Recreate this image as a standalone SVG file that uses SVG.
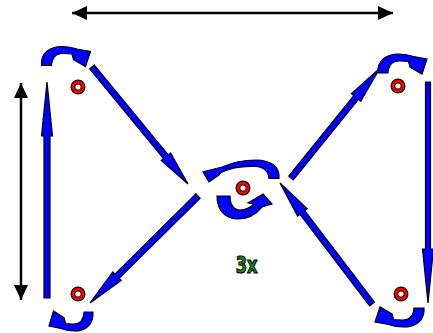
<svg xmlns="http://www.w3.org/2000/svg" xmlns:xlink="http://www.w3.org/1999/xlink" width="433" height="333" viewBox="0 0 433 333">
<style>
.blue{fill:#0000ff;stroke:#000;stroke-width:1.2;stroke-linejoin:miter}
.dim{stroke:#000;stroke-width:2.5;fill:none}
.lbl{font-family:'DejaVu Sans Condensed','DejaVu Sans',sans-serif;font-weight:bold;font-size:18px;fill:#129012;stroke:#000;stroke-width:0.9;text-anchor:middle}
</style>
<defs>
<marker id="ah" markerUnits="userSpaceOnUse" markerWidth="16" markerHeight="14" refX="15" refY="7" orient="auto-start-reverse" viewBox="0 0 16 14">
<path d="M0,0 L15,7 L0,14 Z" fill="#000"/>
</marker>
<path id="curl" d="M0,0 C-1,-12.5 8.5,-19 20.5,-19 C26.5,-19 31.5,-18 35.5,-16.5 L49,-14 L44,1 L32,-6 L30.5,-11.5 C27.5,-12 24.5,-12 21.5,-12 C14.5,-12 10.5,-7.5 10,0 Z"/>
<g id="pin">
<circle r="7.5" fill="#000"/>
<circle r="6.3" fill="#ff0000"/>
<circle r="3.6" fill="#000"/>
<circle r="2.6" fill="#fff"/>
</g>
</defs>
<rect width="433" height="333" fill="#fff"/>
<g id="connectors">
<line class="dim" x1="72" y1="13" x2="393" y2="13" marker-start="url(#ah)" marker-end="url(#ah)"/>
<line class="dim" x1="21" y1="83" x2="21" y2="300" marker-start="url(#ah)" marker-end="url(#ah)"/>
<polygon class="blue" points="50,298 50,136 52.5,136 47,82 41.5,136 44,136 44,298"/>
<polygon class="blue" points="89.67,68.89 163.57,158.69 161.24,160.59 188,184 170.56,153.01 168.23,154.91 94.33,65.11"/>
<polygon class="blue" points="195.89,193.87 114.89,274.12 112.78,271.99 90,303 121.22,280.51 119.11,278.38 200.11,198.13"/>
<polygon class="blue" points="374.39,302.18 304.79,210.63 307.18,208.82 280,183 297.62,216.08 300.01,214.27 369.61,305.82"/>
<polygon class="blue" points="293.33,179.89 358.43,99.39 360.76,101.27 380,68 351.44,93.73 353.77,95.61 288.67,176.11"/>
<polygon class="blue" points="430.5,82 430.5,249 433.5,249 428,303 422.5,249 425.5,249 425.5,82"/>
<use xlink:href="#curl" class="blue" transform="translate(41.5,65.5)"/>
<use xlink:href="#curl" class="blue" transform="translate(378,73)"/>
<use xlink:href="#curl" class="blue" transform="translate(93,312) rotate(180) scale(0.9,1)"/>
<use xlink:href="#curl" class="blue" transform="translate(424,308) rotate(180)"/>
<path class="blue" d="M217,196 C217,211 226,219 238,219 C249,219 257,213 262,207 L272,204 L263,194 L248,203 L254,204 C250,208 245,210 240,210 C234,210 230,205 230,196 Z"/>
<path class="blue" d="M279,178.5 C280,166 270,160 256,160 C243,160 232,162.5 222,167 L203,172 L209,182 L219,175 L221,172.5 C230,168 243,166 255,166.5 C264,167 268.5,171 269,178.5 Z"/>
</g>
<g id="pins">
<use id="pin-tl" xlink:href="#pin" x="78" y="87"/>
<use id="pin-tr" xlink:href="#pin" x="398" y="86"/>
<use id="pin-c" xlink:href="#pin" x="243" y="188"/>
<use id="pin-bl" xlink:href="#pin" x="78" y="294"/>
<use id="pin-br" xlink:href="#pin" x="401" y="294"/>
</g>
<g id="label">
<text class="lbl" transform="translate(246.5,273) scale(1,1.3)">3x</text>
</g>
</svg>
